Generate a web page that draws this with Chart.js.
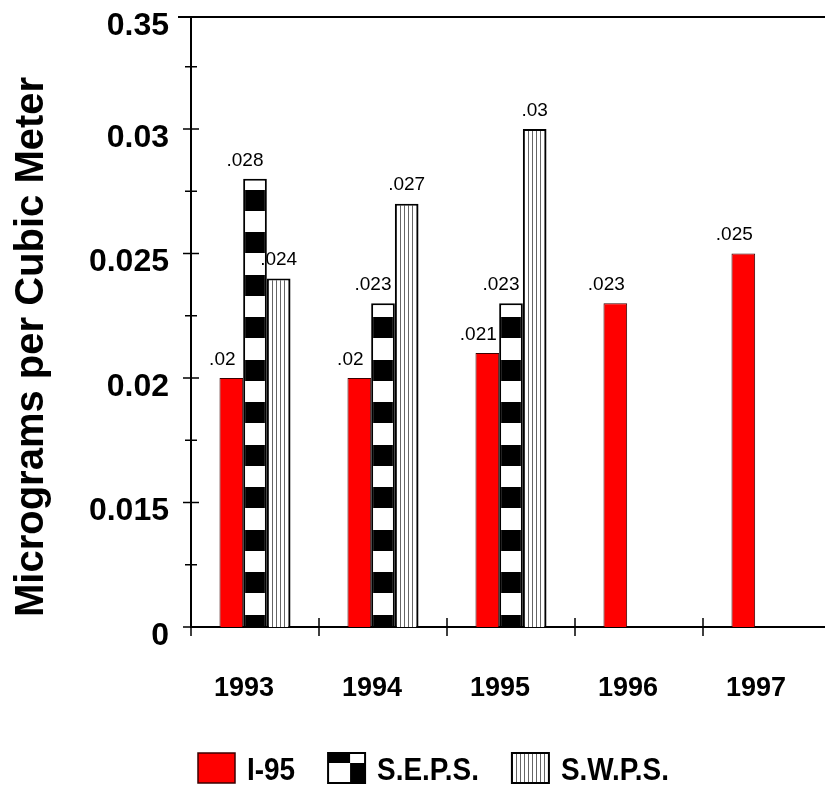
<!DOCTYPE html>
<html>
<head>
<meta charset="utf-8">
<script src="https://cdn.jsdelivr.net/npm/chart.js@4.4.0/dist/chart.umd.min.js"></script>
<style>
  html, body { margin: 0; padding: 0; background: #fff; overflow: hidden; }
  #wrap { width: 840px; height: 787px; }
</style>
</head>
<body>
<div id="wrap"><canvas id="chart" width="840" height="787"></canvas></div>
<script>
// --- données ---
const years = ['1993', '1994', '1995', '1996', '1997'];
const i95 = [0.020, 0.020, 0.021, 0.023, 0.025];
const seps = [0.028, 0.023, 0.023, null, null];
const swps = [0.024, 0.027, 0.030, null, null];
const seriesNames = ['I-95', 'S.E.P.S.', 'S.W.P.S.'];

// axe Y : coupé, le bas est étiqueté "0" et le haut "0.35"
const yTickValues = [0.01, 0.015, 0.02, 0.025, 0.03, 0.0345];
const yTickLabels = ['0', '0.015', '0.02', '0.025', '0.03', '0.35'];
const yMinorTicks = [0.0125, 0.0175, 0.0225, 0.0275, 0.0325];

const BOLD = '"Liberation Sans", Arial, sans-serif';

// --- motifs ---
// damier : bandes noires / blanches d'environ 21 px (période 42.5 -> tuile de 85)
const checkerTile = document.createElement('canvas');
checkerTile.width = 1; checkerTile.height = 85;
(() => {
    const c = checkerTile.getContext('2d');
    c.fillStyle = '#fff'; c.fillRect(0, 0, 1, 85);
    c.fillStyle = '#000';
    c.fillRect(0, 21, 1, 21);
    c.fillRect(0, 64, 1, 21);
})();

const stripeTile = document.createElement('canvas');
stripeTile.width = 4; stripeTile.height = 4;
(() => {
    const c = stripeTile.getContext('2d');
    c.fillStyle = '#fff'; c.fillRect(0, 0, 4, 4);
    c.fillStyle = '#666'; c.fillRect(0, 0, 1, 4);
})();

const ctx2d = document.getElementById('chart').getContext('2d');
const stripeFill = ctx2d.createPattern(stripeTile, 'repeat');

const checkerFill = (c) => {
    const p = ctx2d.createPattern(checkerTile, 'repeat');
    const area = c.chart.chartArea;
    if (area) p.setTransform(new DOMMatrix([1, 0, 0, 1, 0, (area.bottom - 76) % 85]));
    return p;
};

const fmt = v => String(v).replace(/^0/, '');

// --- plugins maison ---
const axesPlugin = {
    id: 'axesExtras',
    afterDraw(chart) {
        const { ctx, chartArea, scales } = chart;
        const ys = scales.y, xs = scales.x;
        ctx.save();
        ctx.strokeStyle = '#000';
        ctx.lineWidth = 2;
        // trait du haut
        ctx.beginPath();
        ctx.moveTo(chartArea.left - 13, chartArea.top);
        ctx.lineTo(chartArea.right, chartArea.top);
        ctx.stroke();
        // graduations Y qui traversent l'axe
        ctx.lineWidth = 1.5;
        ctx.beginPath();
        yTickValues.slice(0, -1).forEach(v => {
            const y = ys.getPixelForValue(v);
            ctx.moveTo(chartArea.left - 8, y); ctx.lineTo(chartArea.left + 8, y);
        });
        yMinorTicks.forEach(v => {
            const y = ys.getPixelForValue(v);
            ctx.moveTo(chartArea.left - 6, y); ctx.lineTo(chartArea.left + 6, y);
        });
        // graduations X entre les catégories
        const cat = xs.width / years.length;
        years.forEach((_, i) => {
            const x = xs.getPixelForValue(i) - cat / 2;
            ctx.moveTo(x, chartArea.bottom - 9); ctx.lineTo(x, chartArea.bottom + 9);
        });
        ctx.stroke();

        // titre de l'axe Y
        ctx.fillStyle = '#000';
        ctx.font = 'bold 40px ' + BOLD;
        ctx.textAlign = 'left';
        ctx.textBaseline = 'alphabetic';
        ctx.translate(43, chartArea.bottom - 10);
        ctx.rotate(-Math.PI / 2);
        ctx.fillText('Micrograms per Cubic Meter', 0, 0);
        ctx.restore();
    }
};

// petit décalage horizontal des étiquettes par série, comme sur l'original
const labelShift = [-9, -10, 0];

const valueLabels = {
    id: 'valueLabels',
    afterDatasetsDraw(chart) {
        const { ctx } = chart;
        ctx.save();
        ctx.fillStyle = '#000';
        ctx.font = '19px ' + BOLD;
        ctx.textAlign = 'center';
        ctx.textBaseline = 'bottom';
        chart.data.datasets.forEach((ds, di) => {
            chart.getDatasetMeta(di).data.forEach((bar, i) => {
                const v = ds.data[i];
                if (v == null) return;
                ctx.fillText(fmt(v), bar.x + labelShift[di], bar.y - 9);
            });
        });
        ctx.restore();
    }
};

const legendPlugin = {
    id: 'legendBoxes',
    afterDraw(chart) {
        const { ctx, chartArea } = chart;
        const boxW = 37, boxH = 30, top = 753, squeeze = 0.9;
        let x = chartArea.left + 7;
        ctx.save();
        ctx.font = 'bold 31px ' + BOLD;
        ctx.textBaseline = 'alphabetic';
        ctx.textAlign = 'left';
        chart.data.datasets.forEach((ds, di) => {
            if (di === 0) {
                ctx.fillStyle = '#ff0000';
                ctx.fillRect(x, top, boxW, boxH);
                ctx.strokeStyle = '#3a0000'; ctx.lineWidth = 1.5;
                ctx.strokeRect(x, top, boxW, boxH);
            } else if (di === 1) {
                const sx = x + 22, sy = top + 10;
                ctx.fillStyle = '#fff'; ctx.fillRect(x, top, boxW, boxH);
                ctx.fillStyle = '#000';
                ctx.fillRect(x, top, sx - x, sy - top);
                ctx.fillRect(sx, sy, x + boxW - sx, top + boxH - sy);
                ctx.strokeStyle = '#000'; ctx.lineWidth = 2;
                ctx.strokeRect(x, top, boxW, boxH);
            } else {
                ctx.fillStyle = stripeFill; ctx.fillRect(x, top, boxW, boxH);
                ctx.strokeStyle = '#000'; ctx.lineWidth = 2;
                ctx.strokeRect(x, top, boxW, boxH);
            }
            ctx.fillStyle = '#000';
            const tx = x + boxW + 12;
            ctx.save();
            ctx.translate(tx, top + 27);
            ctx.scale(squeeze, 1);
            ctx.fillText(ds.label, 0, 0);
            ctx.restore();
            x = tx + ctx.measureText(ds.label).width * squeeze + 33;
        });
        ctx.restore();
    }
};

new Chart(ctx2d, {
    type: 'bar',
    data: {
        labels: years,
        datasets: [
            { label: seriesNames[0], data: i95, backgroundColor: '#ff0000', borderColor: '#3a0000', borderWidth: 1 },
            { label: seriesNames[1], data: seps, backgroundColor: checkerFill, borderColor: '#000', borderWidth: 2 },
            { label: seriesNames[2], data: swps, backgroundColor: stripeFill, borderColor: '#000', borderWidth: 2 }
        ]
    },
    options: {
        responsive: false,
        animation: false,
        layout: { padding: { left: 0, right: 9, top: 17, bottom: 0 } },
        datasets: { bar: { barPercentage: 1, categoryPercentage: 0.555 } },
        plugins: { legend: { display: false }, tooltip: { enabled: false } },
        scales: {
            x: {
                grid: { display: false, drawTicks: false },
                border: { display: true, color: '#000', width: 2 },
                ticks: { color: '#000', font: { family: BOLD, size: 27, weight: 'bold' }, padding: 45, labelOffset: -11, maxRotation: 0 },
                afterFit(scale) {
                    scale.height = 160;
                    scale.paddingLeft = 0; scale.paddingRight = 0;
                }
            },
            y: {
                min: 0.01,
                max: 0.0345,
                grid: { display: false, drawTicks: false },
                border: { display: true, color: '#000', width: 2 },
                afterBuildTicks(scale) { scale.ticks = yTickValues.map(v => ({ value: v })); },
                ticks: {
                    color: '#000',
                    font: { family: BOLD, size: 32, weight: 'bold' },
                    padding: 22,
                    labelOffset: 9,
                    callback: (v, i) => yTickLabels[i]
                },
                afterFit(scale) {
                    scale.width = 191;
                    scale.paddingTop = 0; scale.paddingBottom = 0;
                }
            }
        }
    },
    plugins: [axesPlugin, valueLabels, legendPlugin]
});
</script>
</body>
</html>
